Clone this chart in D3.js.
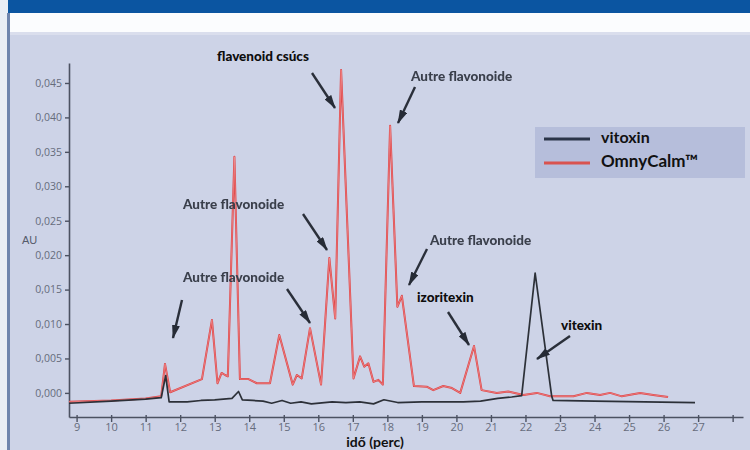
<!DOCTYPE html>
<html>
<head>
<meta charset="utf-8">
<script src="https://cdn.jsdelivr.net/npm/d3@7"></script>
<style>
  html, body { margin: 0; padding: 0; background: #f3f5fa; }
  svg { display: block; }
</style>
</head>
<body>
<svg id="chart" width="750" height="450"></svg>
<script>
// ---- data ----
const xTickValues = [9,10,11,12,13,14,15,16,17,18,19,20,21,22,23,24,25,26,27,28];
const xTickLabels = ["9","10","11","12","13","14","15","16","17","18","19","20","21","22","23","24","25","26","27",""];
const yTickValues = [0, 0.005, 0.010, 0.015, 0.020, 0.025, 0.030, 0.035, 0.040, 0.045];

const seriesNames = ["vitoxin", "OmnyCalm™"];

const vitoxinTime = [8.78, 10.0, 11.0, 11.45, 11.58, 11.68, 12.2, 12.6, 13.0, 13.5, 13.69, 13.8, 14.1, 14.4, 14.65, 14.95, 15.2, 15.5, 15.8, 16.4, 16.8, 17.2, 17.6, 17.9, 18.3, 19.0, 20.2, 20.7, 21.2, 21.6, 21.89, 22.28, 22.76, 22.8, 24.0, 26.91];
const vitoxinAU   = [-0.0015, -0.0012, -0.0009, -0.0007, 0.0025, -0.0013, -0.0013, -0.0011, -0.0010, -0.0008, 0.0002, -0.0010, -0.0011, -0.0012, -0.0015, -0.0011, -0.0015, -0.0013, -0.0016, -0.0013, -0.0014, -0.0013, -0.0016, -0.0010, -0.0014, -0.0013, -0.0013, -0.0012, -0.0008, -0.0006, -0.0004, 0.0174, -0.0005, -0.0011, -0.0012, -0.0014];

const omnyTime = [8.78, 10.0, 11.0, 11.45, 11.56, 11.71, 12.63, 12.92, 13.08, 13.20, 13.30, 13.38, 13.57, 13.73, 13.98, 14.22, 14.60, 14.87, 15.26, 15.38, 15.52, 15.76, 16.08, 16.32, 16.49, 16.66, 17.02, 17.21, 17.33, 17.45, 17.60, 17.74, 17.87, 18.08, 18.29, 18.42, 18.77, 19.14, 19.33, 19.62, 19.87, 20.11, 20.51, 20.73, 21.17, 21.50, 21.94, 22.33, 22.71, 23.39, 23.78, 24.16, 24.45, 24.79, 25.32, 25.70, 26.13];
const omnyAU   = [-0.0013, -0.0011, -0.0008, -0.0005, 0.0042, 0.0001, 0.0020, 0.0106, 0.0014, 0.0029, 0.0026, 0.0024, 0.0343, 0.0020, 0.0020, 0.0014, 0.0014, 0.0084, 0.0012, 0.0026, 0.0021, 0.0094, 0.0012, 0.0196, 0.0108, 0.0469, 0.0021, 0.0053, 0.0038, 0.0043, 0.0016, 0.0019, 0.0012, 0.0388, 0.0125, 0.0141, 0.0010, 0.0009, 0.0004, 0.0010, 0.0007, 0.0000, 0.0068, 0.0004, 0.0000, 0.0002, -0.0003, 0.0000, -0.0005, -0.0005, 0.0000, -0.0003, 0.0000, -0.0005, 0.0000, -0.0003, -0.0006];

const annotations = [
  { text: "flavenoid csúcs",  style: "dark",  tx: 217, ty: 61,  x1: 312, y1: 73,  x2: 335, y2: 108 },
  { text: "Autre flavonoide", style: "blur",  tx: 411, ty: 81,  x1: 415, y1: 87,  x2: 398, y2: 123 },
  { text: "Autre flavonoide", style: "blur",  tx: 183, ty: 209, x1: 303, y1: 214, x2: 327, y2: 250 },
  { text: "Autre flavonoide", style: "blur",  tx: 183, ty: 282, x1: 287, y1: 289, x2: 310, y2: 323 },
  { text: "",                 style: "blur",  tx: 0,   ty: 0,   x1: 182, y1: 300, x2: 173, y2: 338 },
  { text: "Autre flavonoide", style: "blur",  tx: 430, ty: 245, x1: 427, y1: 249, x2: 409, y2: 285 },
  { text: "izoritexin",       style: "dark",  tx: 417, ty: 302, x1: 448, y1: 312, x2: 469, y2: 345 },
  { text: "vitexin",          style: "dark",  tx: 561, ty: 330, x1: 570, y1: 336, x2: 537, y2: 359 }
];

// ---- drawing ----
const svg = d3.select("#chart");
const defs = svg.append("defs");
defs.append("filter").attr("id", "soft")
  .append("feGaussianBlur").attr("stdDeviation", 0.45);
defs.append("marker")
  .attr("id", "arrow").attr("viewBox", "0 0 14 8")
  .attr("refX", 13).attr("refY", 4)
  .attr("markerWidth", 14).attr("markerHeight", 8)
  .attr("markerUnits", "userSpaceOnUse")
  .attr("orient", "auto")
  .append("path").attr("d", "M0,0 L14,4 L0,8 Z").attr("fill", "#262b36");

// background layers
svg.append("rect").attr("x", 0).attr("y", 0).attr("width", 750).attr("height", 450).attr("fill", "#e9edf5");
svg.append("rect").attr("x", 8).attr("y", 0).attr("width", 742).attr("height", 13).attr("fill", "#0b55a1");
svg.append("rect").attr("x", 8).attr("y", 13).attr("width", 742).attr("height", 19).attr("fill", "#fbfcfe");
svg.append("rect").attr("x", 10).attr("y", 32).attr("width", 740).attr("height", 418).attr("fill", "#cdd3e7");
svg.append("rect").attr("x", 10).attr("y", 32).attr("width", 740).attr("height", 3).attr("fill", "#dadeed");
svg.append("rect").attr("x", 7).attr("y", 13).attr("width", 3).attr("height", 437).attr("fill", "#6f84ad");

const x = d3.scaleLinear().domain([8.78, 28.3]).range([69, 743]);
const y = d3.scaleLinear().domain([-0.0035, 0.0479]).range([417, 63]);

const locale = d3.formatLocale({ decimal: ",", thousands: " ", grouping: [3], currency: ["", ""] });
const yFmt = locale.format(".3f");

// y axis
const yAxis = svg.append("g").attr("transform", `translate(${x.range()[0]},0)`)
  .call(d3.axisLeft(y).tickValues(yTickValues).tickFormat(yFmt).tickSize(4).tickPadding(3).tickSizeOuter(0));
yAxis.select(".domain").attr("stroke", "#4c5262").attr("stroke-width", 1.6);
yAxis.selectAll(".tick line").attr("stroke", "#4c5262").attr("stroke-width", 1.4);
yAxis.selectAll(".tick text").attr("fill", "#666c7c")
  .style("font-family", "'Liberation Sans Narrow', 'Open Sans', sans-serif").style("font-size", "10.5px");

// x axis
const xAxis = svg.append("g").attr("transform", `translate(0,${y.range()[0]})`)
  .call(d3.axisBottom(x).tickValues(xTickValues).tickFormat((d, i) => xTickLabels[i]).tickSize(5).tickPadding(1).tickSizeOuter(0));
xAxis.select(".domain").attr("stroke", "#4c5262").attr("stroke-width", 1.6);
xAxis.selectAll(".tick line").attr("stroke", "#4c5262").attr("stroke-width", 1.4).attr("y1", -2);
xAxis.selectAll(".tick text").attr("fill", "#666c7c")
  .style("font-family", "'Liberation Sans Narrow', 'Open Sans', sans-serif").style("font-size", "11px");

// axis titles
svg.append("text").attr("x", 22).attr("y", 244).text("AU")
  .attr("fill", "#555b6b").style("font-family", "'Liberation Sans Narrow', sans-serif").style("font-size", "11px");
svg.append("text").attr("x", 375).attr("y", 447).attr("text-anchor", "middle").text("idő (perc)")
  .attr("fill", "#111").style("font-family", "Lato, 'Open Sans', sans-serif").style("font-weight", 700).style("font-size", "14px");

// series
const line = d3.line().x(d => x(d[0])).y(d => y(d[1]));
const vitoxinData = vitoxinTime.map((t, i) => [t, vitoxinAU[i]]);
const omnyData = omnyTime.map((t, i) => [t, omnyAU[i]]);

svg.append("path").datum(omnyData).attr("d", line)
  .attr("fill", "none").attr("stroke", "#de4144").attr("stroke-width", 2).attr("stroke-linejoin", "round");
svg.append("path").datum(omnyData).attr("d", line)
  .attr("fill", "none").attr("stroke", "#f2a0a0").attr("stroke-width", 0.6).attr("stroke-linejoin", "round");
svg.append("path").datum(vitoxinData).attr("d", line)
  .attr("fill", "none").attr("stroke", "#2c3038").attr("stroke-width", 1.7).attr("stroke-linejoin", "round");

// annotations
const ann = svg.append("g");
annotations.forEach(a => {
  ann.append("line").attr("x1", a.x1).attr("y1", a.y1).attr("x2", a.x2).attr("y2", a.y2)
    .attr("stroke", "#2a2f3a").attr("stroke-width", 2.4).attr("marker-end", "url(#arrow)");
  if (a.text) {
    const t = ann.append("text").attr("x", a.tx).attr("y", a.ty).text(a.text)
      .style("font-family", "Lato, 'Open Sans', sans-serif").style("font-weight", 900)
      .style("font-size", "13.5px");
    if (a.style === "blur") {
      t.attr("fill", "#3a3f4c").attr("filter", "url(#soft)");
    } else {
      t.attr("fill", "#0d0d0d");
    }
  }
});

// legend
const lg = svg.append("g");
lg.append("rect").attr("x", 535).attr("y", 127).attr("width", 210).attr("height", 51).attr("fill", "#b6bedb");
const legendColors = ["#2a3448", "#d9534f"];
seriesNames.forEach((n, i) => {
  const yy = 139 + i * 24;
  lg.append("line").attr("x1", 544).attr("x2", 590).attr("y1", yy).attr("y2", yy)
    .attr("stroke", legendColors[i]).attr("stroke-width", 3);
  lg.append("text").attr("x", 601).attr("y", yy + 4).text(n)
    .attr("fill", "#111").style("font-family", "Lato, 'Open Sans', sans-serif")
    .style("font-weight", 700).style("font-size", i === 0 ? "16px" : "17px");
});
</script>
</body>
</html>
